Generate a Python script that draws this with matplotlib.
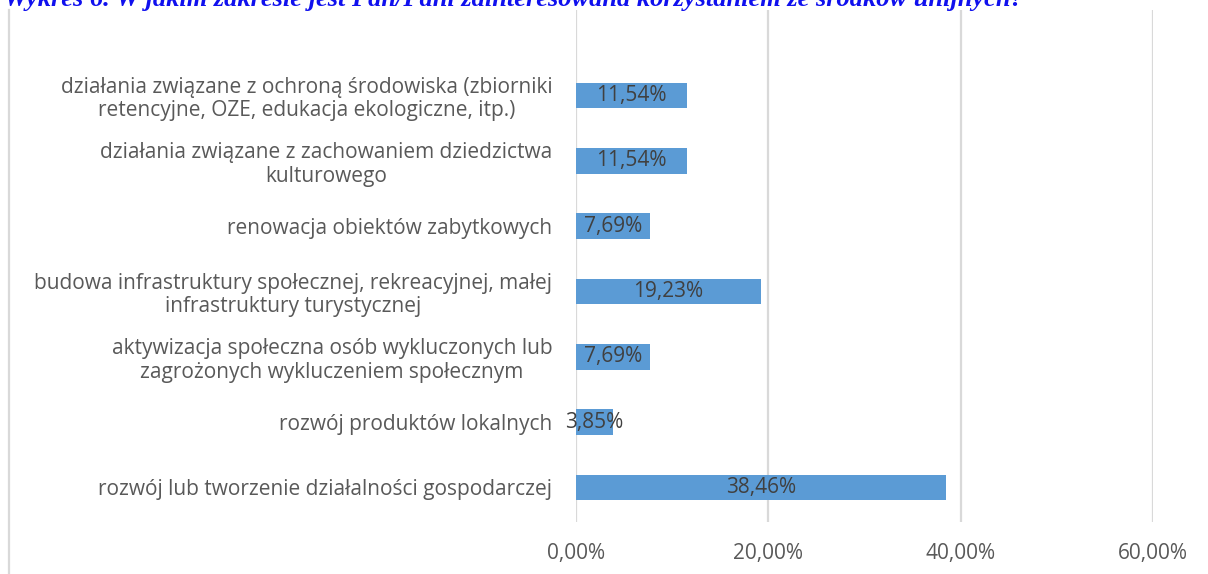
"""Horizontal bar chart: areas of interest in EU funding (Wykres 6)."""
import matplotlib
matplotlib.use("Agg")
import matplotlib.pyplot as plt
from matplotlib.lines import Line2D

# ---------- data (bottom to top) ----------
categories = [
    "rozwój lub tworzenie działalności gospodarczej",
    "rozwój produktów lokalnych",
    "aktywizacja społeczna osób wykluczonych lub\nzagrożonych wykluczeniem społecznym",
    "budowa infrastruktury społecznej, rekreacyjnej, małej\ninfrastruktury turystycznej",
    "renowacja obiektów zabytkowych",
    "działania związane z zachowaniem dziedzictwa\nkulturowego",
    "działania związane z ochroną środowiska (zbiorniki\nretencyjne, OZE, edukacja ekologiczne, itp.)",
]
values = [38.46, 3.85, 7.69, 19.23, 7.69, 11.54, 11.54]
xticks = [0, 20, 40, 60]
title = ("Wykres 6. W jakim zakresie jest Pan/Pani zainteresowana "
         "korzystaniem ze środków unijnych?")

W, H = 1208, 574
FONT = ["Open Sans", "DejaVu Sans"]
FS = 15
plt.rcParams["font.family"] = FONT

fig = plt.figure(figsize=(W / 100, H / 100), dpi=100)
ax = fig.add_axes([576 / W, 1 - 522 / H, (1153 - 576) / W, (522 - 10) / H])

ypos = list(range(len(categories)))
bars = ax.barh(ypos, values, height=0.39, color="#5b9bd5", zorder=3)
ax.bar_label(bars, labels=[f"{v:.2f}%".replace(".", ",") for v in values],
             label_type="center", color="#404040", fontsize=FS, zorder=4)

ax.set_xlim(0, 60)
ax.set_ylim(-0.53, 7.31)
ax.set_xticks(xticks, [f"{t:.2f}%".replace(".", ",") for t in xticks])
ax.set_yticks(ypos, categories)
for lab in ax.get_yticklabels():
    lab.set_multialignment("center")
    lab.set_linespacing(1.15)
ax.tick_params(axis="y", length=0, pad=17, labelsize=FS, labelcolor="#595959")
ax.tick_params(axis="x", length=0, pad=15, labelsize=FS, labelcolor="#595959")
ax.grid(axis="x", color="#d9d9d9", lw=1.6, zorder=0)
for s in ax.spines.values():
    s.set_visible(False)

# chart border on the left and the clipped heading at the top
fig.add_artist(Line2D([9 / W, 9 / W], [0, 1 - 10 / H], transform=fig.transFigure,
                      color="#d9d9d9", lw=1.6))
fig.text(4 / W, 1 - 6 / H, title, va="baseline", ha="left", color="#1010ee",
         family=["Liberation Serif", "DejaVu Serif"], weight="bold", style="italic",
         fontsize=19)

fig.savefig("out.png", dpi=100)
